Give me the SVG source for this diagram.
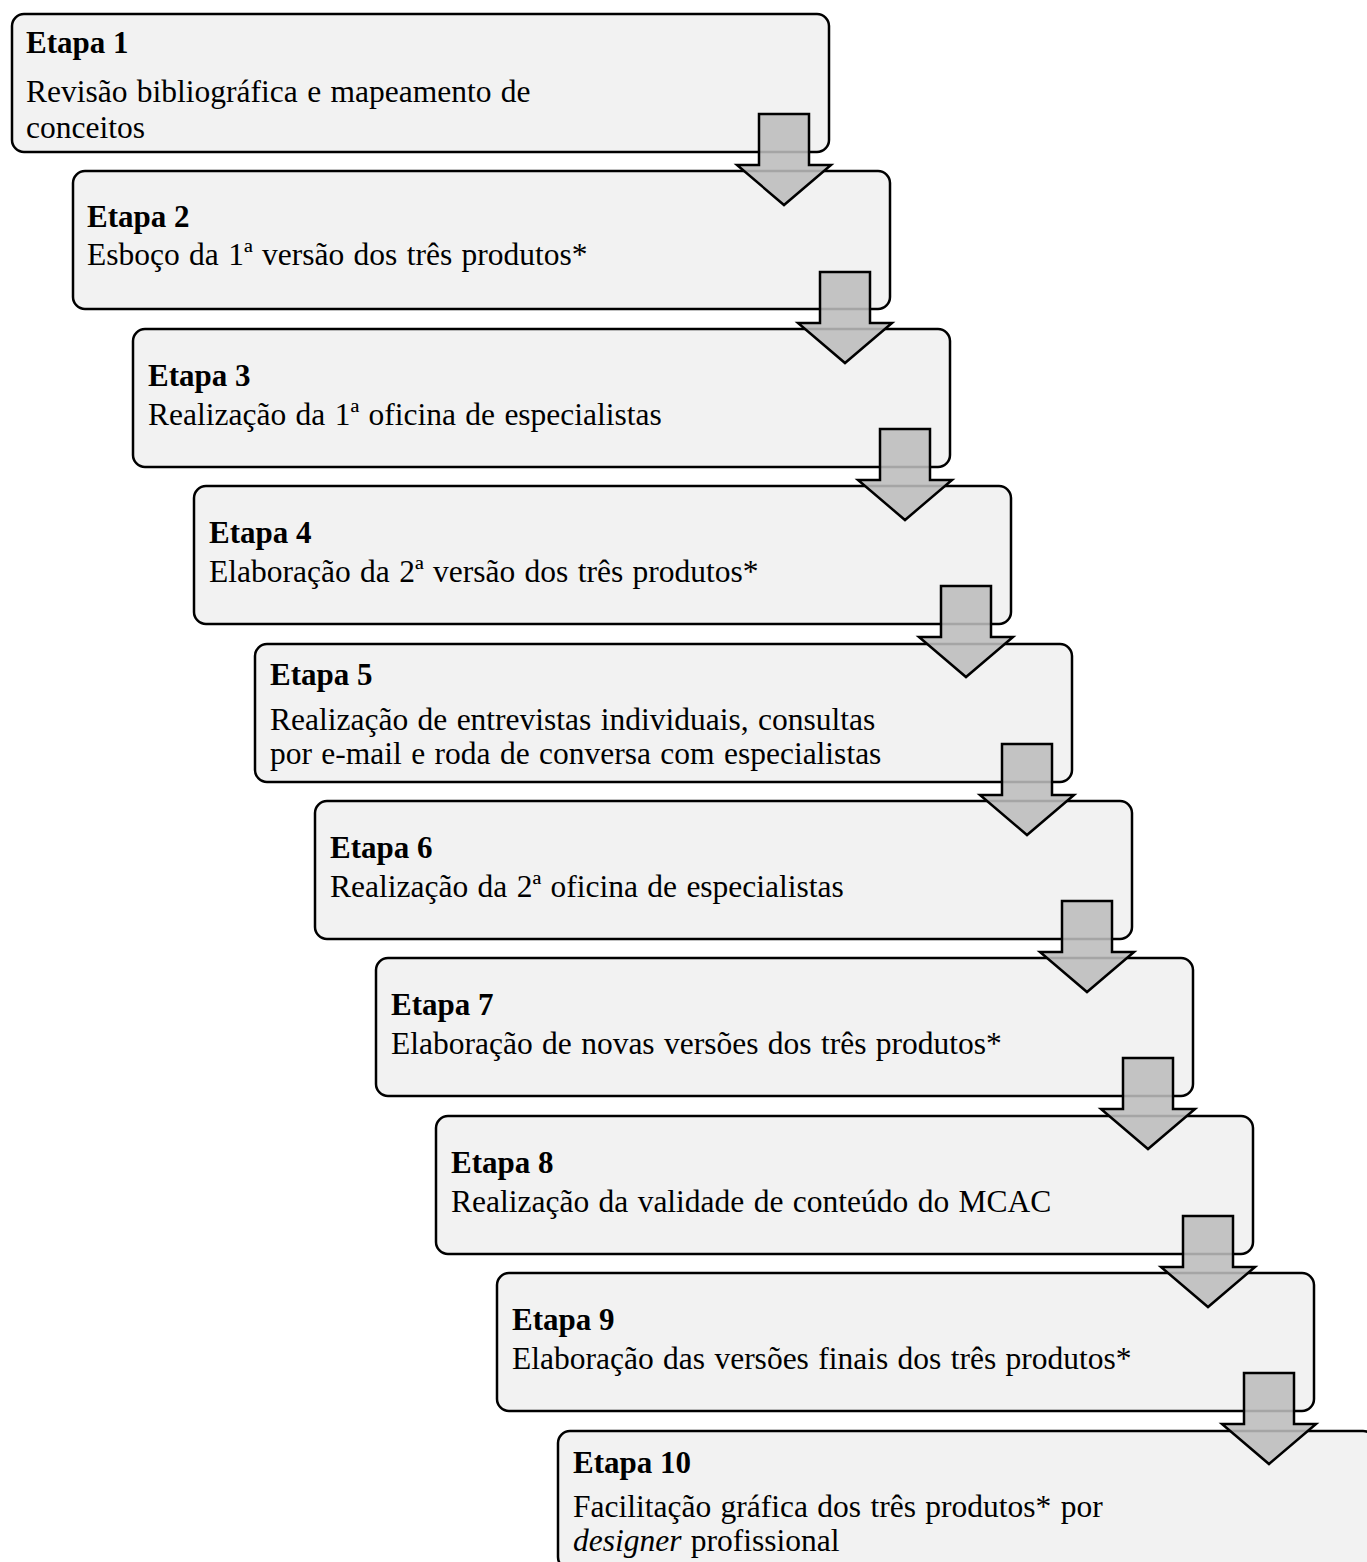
<svg xmlns="http://www.w3.org/2000/svg" width="1367" height="1562" viewBox="0 0 1367 1562">
<style>
.box{fill:#f2f2f2;stroke:#000;stroke-width:2.5}
.arr{fill:#bcbcbc;fill-opacity:0.88;stroke:#000;stroke-width:2.5;stroke-linejoin:miter}
.t{font-family:"Liberation Serif","Times New Roman",serif;font-size:31.5px;word-spacing:1.5px;fill:#000}
.h{font-weight:bold;font-size:31px;word-spacing:0}
</style>
<rect width="1367" height="1562" fill="#fff"/>
<g id="n1"><rect class="box" x="12" y="14" width="817" height="138" rx="12"/>
<text class="t h" x="26" y="53">Etapa 1</text>
<text class="t" x="26" y="102">Revisão bibliográfica e mapeamento de</text>
<text class="t" x="26" y="138">conceitos</text></g>
<g id="n2"><rect class="box" x="73" y="171" width="817" height="138" rx="12"/>
<text class="t h" x="87" y="227">Etapa 2</text>
<text class="t" x="87" y="265">Esboço da 1ª versão dos três produtos*</text></g>
<g id="n3"><rect class="box" x="133" y="329" width="817" height="138" rx="12"/>
<text class="t h" x="148" y="386">Etapa 3</text>
<text class="t" x="148" y="425">Realização da 1ª oficina de especialistas</text></g>
<g id="n4"><rect class="box" x="194" y="486" width="817" height="138" rx="12"/>
<text class="t h" x="209" y="543">Etapa 4</text>
<text class="t" x="209" y="582">Elaboração da 2ª versão dos três produtos*</text></g>
<g id="n5"><rect class="box" x="255" y="644" width="817" height="138" rx="12"/>
<text class="t h" x="270" y="685">Etapa 5</text>
<text class="t" x="270" y="730">Realização de entrevistas individuais, consultas</text>
<text class="t" x="270" y="764">por e-mail e roda de conversa com especialistas</text></g>
<g id="n6"><rect class="box" x="315" y="801" width="817" height="138" rx="12"/>
<text class="t h" x="330" y="858">Etapa 6</text>
<text class="t" x="330" y="897">Realização da 2ª oficina de especialistas</text></g>
<g id="n7"><rect class="box" x="376" y="958" width="817" height="138" rx="12"/>
<text class="t h" x="391" y="1015">Etapa 7</text>
<text class="t" x="391" y="1054">Elaboração de novas versões dos três produtos*</text></g>
<g id="n8"><rect class="box" x="436" y="1116" width="817" height="138" rx="12"/>
<text class="t h" x="451" y="1173">Etapa 8</text>
<text class="t" x="451" y="1212">Realização da validade de conteúdo do MCAC</text></g>
<g id="n9"><rect class="box" x="497" y="1273" width="817" height="138" rx="12"/>
<text class="t h" x="512" y="1330">Etapa 9</text>
<text class="t" x="512" y="1369">Elaboração das versões finais dos três produtos*</text></g>
<g id="n10"><rect class="box" x="558" y="1431" width="817" height="138" rx="12"/>
<text class="t h" x="573" y="1473">Etapa 10</text>
<text class="t" x="573" y="1517">Facilitação gráfica dos três produtos* por</text>
<text class="t" x="573" y="1551"><tspan font-style="italic">designer</tspan> profissional</text></g>
<g id="connectors">
<path class="arr" d="M759,114 H809 V165 H831 L784,205 L737,165 H759 Z"/>
<path class="arr" d="M820,272 H870 V323 H892 L845,363 L798,323 H820 Z"/>
<path class="arr" d="M880,429 H930 V480 H952 L905,520 L858,480 H880 Z"/>
<path class="arr" d="M941,586 H991 V637 H1013 L966,677 L919,637 H941 Z"/>
<path class="arr" d="M1002,744 H1052 V795 H1074 L1027,835 L980,795 H1002 Z"/>
<path class="arr" d="M1062,901 H1112 V952 H1134 L1087,992 L1040,952 H1062 Z"/>
<path class="arr" d="M1123,1058 H1173 V1109 H1195 L1148,1149 L1101,1109 H1123 Z"/>
<path class="arr" d="M1183,1216 H1233 V1267 H1255 L1208,1307 L1161,1267 H1183 Z"/>
<path class="arr" d="M1244,1373 H1294 V1424 H1316 L1269,1464 L1222,1424 H1244 Z"/>
</g>
</svg>
